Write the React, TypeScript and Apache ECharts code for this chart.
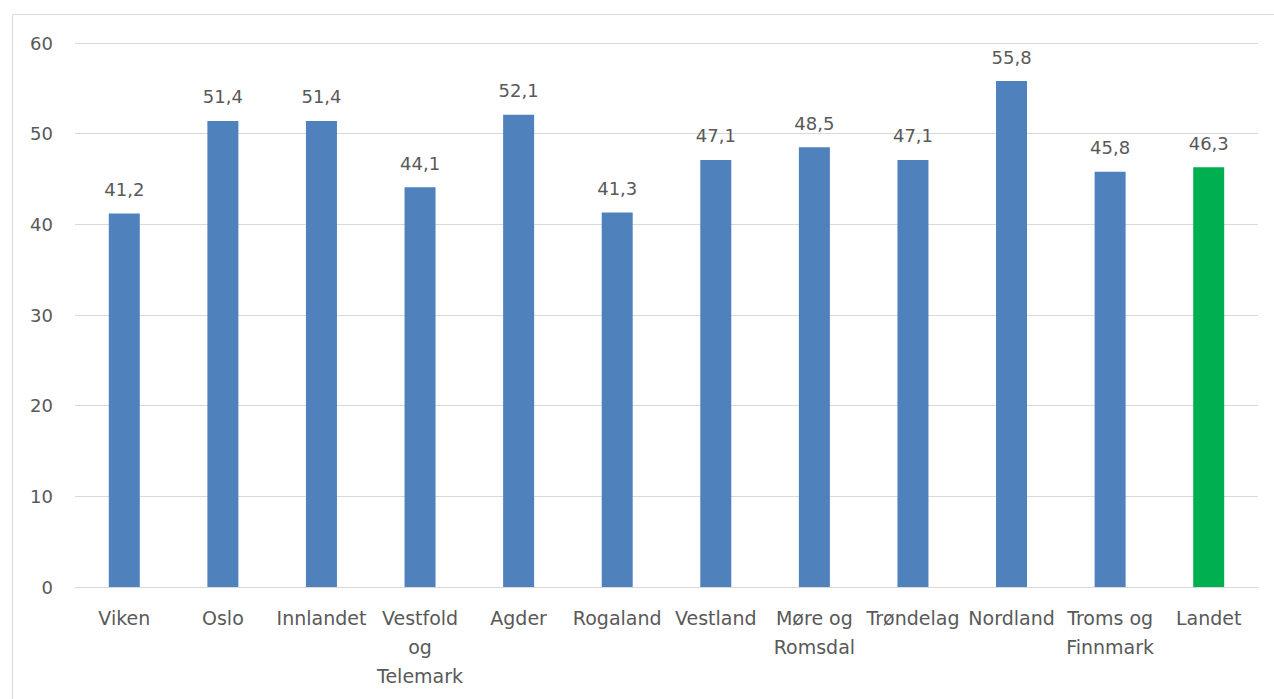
import React, { useEffect, useRef } from "react";
import * as echarts from "echarts";

const categories = [
  "Viken",
  "Oslo",
  "Innlandet",
  "Vestfold og Telemark",
  "Agder",
  "Rogaland",
  "Vestland",
  "Møre og Romsdal",
  "Trøndelag",
  "Nordland",
  "Troms og Finnmark",
  "Landet",
];
const values = [41.2, 51.4, 51.4, 44.1, 52.1, 41.3, 47.1, 48.5, 47.1, 55.8, 45.8, 46.3];
const highlightCategory = "Landet";
const labelBreaks: Record<string, string> = {
  "Vestfold og Telemark": "Vestfold\nog\nTelemark",
  "Møre og Romsdal": "Møre og\nRomsdal",
  "Troms og Finnmark": "Troms og\nFinnmark",
};

const BLUE = "#4F81BD";
const GREEN = "#00B050";
const TEXT = "#595959";
const FONT = "'DejaVu Sans', sans-serif";

export default function App() {
  const ref = useRef<HTMLDivElement>(null);
  useEffect(() => {
    if (!ref.current) return;
    const chart = echarts.init(ref.current, undefined, { renderer: "svg" });
    chart.setOption({
      animation: false,
      backgroundColor: "#ffffff",
      textStyle: { fontFamily: FONT },
      graphic: [
        {
          type: "rect",
          shape: { x: 12.5, y: 14.5, width: 1300, height: 720 },
          style: { fill: "none", stroke: "#d9d9d9", lineWidth: 1 },
          silent: true,
        },
      ],
      grid: { left: 75, right: 16, top: 43, bottom: 112, containLabel: false },
      xAxis: {
        type: "category",
        data: categories,
        axisLine: { show: true, lineStyle: { color: "#d9d9d9", width: 1 } },
        axisTick: { show: false },
        axisLabel: {
          color: TEXT,
          fontSize: 19,
          fontFamily: FONT,
          lineHeight: 29,
          margin: 16,
          interval: 0,
          formatter: (v: string) => labelBreaks[v] ?? v,
        },
      },
      yAxis: {
        type: "value",
        min: 0,
        max: 60,
        interval: 10,
        axisLine: { show: false },
        axisTick: { show: false },
        splitLine: { lineStyle: { color: "#d9d9d9", width: 1 } },
        axisLabel: { color: TEXT, fontSize: 18, fontFamily: FONT, margin: 22 },
      },
      series: [
        {
          type: "bar",
          barWidth: 31,
          data: values.map((v, i) => ({
            value: v,
            itemStyle: { color: categories[i] === highlightCategory ? GREEN : BLUE },
          })),
          label: {
            show: true,
            position: "top",
            distance: 15,
            color: TEXT,
            fontSize: 18,
            fontFamily: FONT,
            formatter: (p: any) => Number(p.value).toFixed(1).replace(".", ","),
          },
        },
      ],
    });
    return () => chart.dispose();
  }, []);
  return (
    <div
      ref={ref}
      style={{ position: "absolute", left: 0, top: 0, width: 1274, height: 699 }}
    />
  );
}
